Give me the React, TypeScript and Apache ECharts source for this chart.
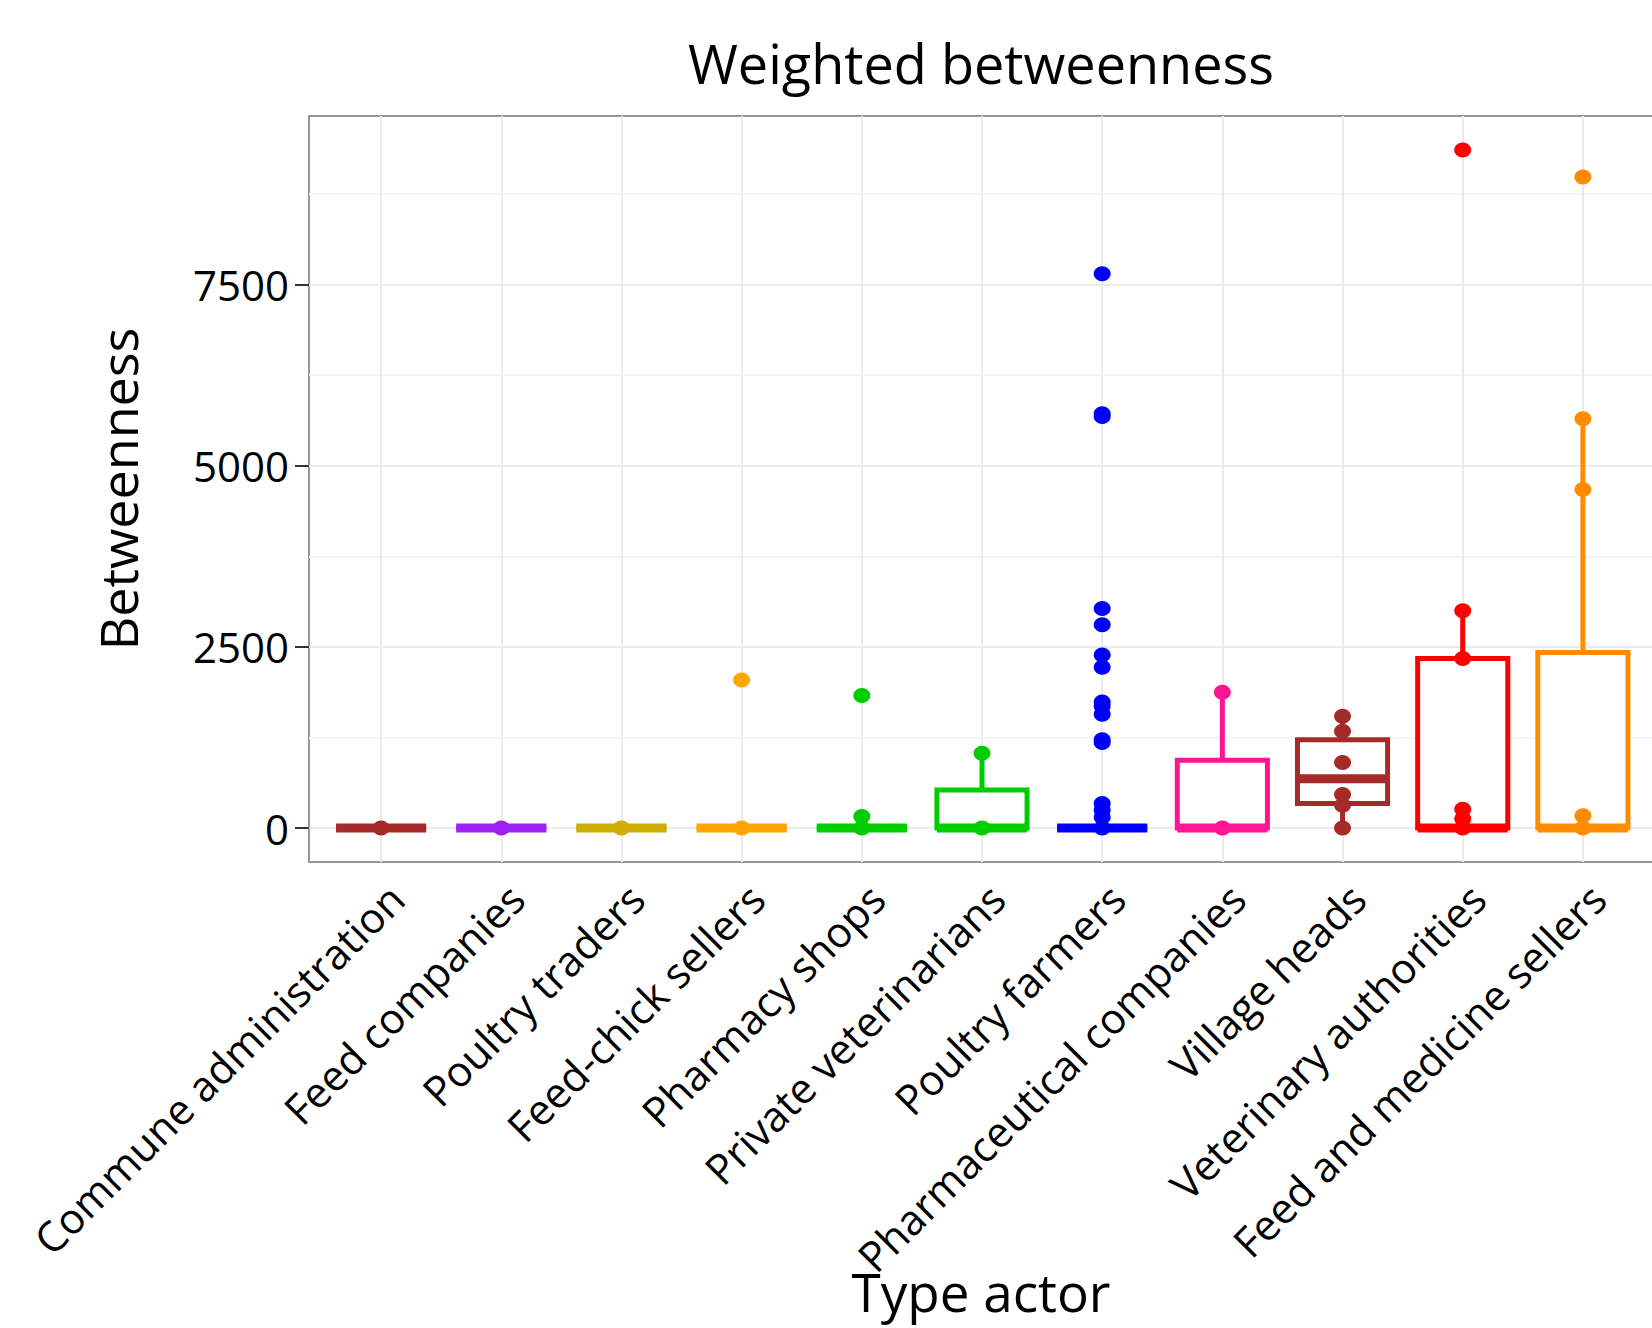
import React, { useEffect, useRef } from "react";
import * as echarts from "echarts";

const categories = [
  "Commune administration",
  "Feed companies",
  "Poultry traders",
  "Feed-chick sellers",
  "Pharmacy shops",
  "Private veterinarians",
  "Poultry farmers",
  "Pharmaceutical companies",
  "Village heads",
  "Veterinary authorities",
  "Feed and medicine sellers",
];

const colors = [
  "#A52A2A",
  "#A020F0",
  "#CDAD00",
  "#FFA500",
  "#00CD00",
  "#00CD00",
  "#0000FF",
  "#FF1493",
  "#A52A2A",
  "#FF0000",
  "#FF8C00",
];

// box statistics per category
const whiskerLow = [0, 0, 0, 0, 0, 0, 0, 0, 0, 0, 0];
const q1 = [0, 0, 0, 0, 0, 0, 0, 0, 340, 0, 0];
const median = [0, 0, 0, 0, 0, 0, 0, 0, 680, 0, 0];
const q3 = [0, 0, 0, 0, 0, 525, 0, 935, 1220, 2340, 2425];
const whiskerHigh = [0, 0, 0, 0, 0, 1032, 0, 1875, 1545, 2998, 5650];

// observed points per category
const pointValues = [
  [0],
  [0],
  [0],
  [0, 2045],
  [0, 160, 1830],
  [0, 1032],
  [0, 150, 250, 340, 1180, 1220, 1570, 1680, 1740, 2220, 2390, 2805, 3030, 5680, 5720, 7650],
  [0, 1875],
  [0, 315, 465, 905, 1335, 1545],
  [0, 130, 260, 2340, 2998, 9360],
  [0, 170, 4672, 5650, 8985],
];

const yTicks = [0, 2500, 5000, 7500];
const yMinorGrid = [1250, 3750, 6250, 8750];
const yMin = -468;
const yMax = 9828;

const FONT = "Open Sans";

export default function App() {
  const ref = useRef<HTMLDivElement>(null);

  useEffect(() => {
    if (!ref.current) return;
    const chart = echarts.init(ref.current, null, { renderer: "svg" });
    const xPositions = categories.map((_, i) => i + 1);

    const boxData = categories.map((_, i) => [
      i + 1,
      whiskerLow[i],
      q1[i],
      median[i],
      q3[i],
      whiskerHigh[i],
    ]);

    const scatterData: any[] = [];
    pointValues.forEach((vals, i) => {
      vals.forEach((v) => {
        scatterData.push({ value: [i + 1, v], itemStyle: { color: colors[i], opacity: 1 } });
      });
    });

    const gridLineData: any[] = [
      ...yMinorGrid.map((v) => ({ yAxis: v, lineStyle: { color: "#F5F5F5", width: 2, type: "solid" } })),
      ...yTicks.map((v) => ({ yAxis: v, lineStyle: { color: "#EBEBEB", width: 2, type: "solid" } })),
      ...xPositions.map((v) => ({ xAxis: v, lineStyle: { color: "#EBEBEB", width: 2, type: "solid" } })),
    ];

    const option: any = {
      animation: false,
      backgroundColor: "#ffffff",
      textStyle: { fontFamily: FONT },
      grid: {
        left: 309,
        top: 116,
        width: 1346,
        height: 746,
        show: true,
        borderColor: "#979797",
        borderWidth: 2,
        backgroundColor: "#ffffff",
        containLabel: false,
        outerBoundsMode: "none",
      },
      xAxis: {
        type: "value",
        min: 0.4,
        max: 11.6,
        axisLine: { show: false },
        splitLine: { show: false },
        axisTick: {
          show: true,
          customValues: xPositions,
          length: 14,
          lineStyle: { color: "#333333", width: 2 },
        },
        axisLabel: {
          customValues: xPositions,
          formatter: (v: number) => categories[Math.round(v) - 1] ?? "",
          rotate: 45,
          align: "right",
          verticalAlign: "top",
          fontSize: 42,
          fontFamily: FONT,
          color: "#000000",
          margin: 14,
          hideOverlap: false,
        },
      },
      yAxis: {
        type: "value",
        min: yMin,
        max: yMax,
        axisLine: { show: false },
        splitLine: { show: false },
        axisTick: {
          show: true,
          customValues: yTicks,
          length: 14,
          lineStyle: { color: "#333333", width: 2 },
        },
        axisLabel: {
          customValues: yTicks,
          formatter: (v: number) => String(Math.round(v)),
          fontSize: 42,
          fontFamily: FONT,
          color: "#000000",
          margin: 20,
        },
      },
      graphic: [
        {
          type: "text",
          x: 981,
          y: 63,
          style: {
            text: "Weighted betweenness",
            fontSize: 54,
            fontFamily: FONT,
            fill: "#000000",
            align: "center",
            verticalAlign: "middle",
          },
        },
        {
          type: "text",
          x: 981,
          y: 1291,
          style: {
            text: "Type actor",
            fontSize: 53,
            fontFamily: FONT,
            fill: "#000000",
            align: "center",
            verticalAlign: "middle",
          },
        },
        {
          type: "text",
          x: 117,
          y: 489,
          rotation: Math.PI / 2,
          style: {
            text: "Betweenness",
            fontSize: 52,
            fontFamily: FONT,
            fill: "#000000",
            align: "center",
            verticalAlign: "middle",
          },
        },
      ],
      series: [
        {
          type: "line",
          data: [],
          silent: true,
          z: 1,
          markLine: {
            z: 1,
            silent: true,
            symbol: ["none", "none"],
            label: { show: false },
            animation: false,
            data: gridLineData,
          },
        },
        {
          type: "custom",
          z: 3,
          data: boxData,
          encode: { x: 0, y: [1, 2, 3, 4, 5] },
          renderItem: (params: any, api: any) => {
            const x = api.value(0);
            const lo = api.coord([x, api.value(1)]);
            const q1p = api.coord([x, api.value(2)]);
            const md = api.coord([x, api.value(3)]);
            const q3p = api.coord([x, api.value(4)]);
            const hi = api.coord([x, api.value(5)]);
            const hw = api.size([0.75, 0])[0] / 2;
            const color = colors[params.dataIndex];
            return {
              type: "group",
              children: [
                {
                  type: "line",
                  shape: { x1: lo[0], y1: lo[1], x2: q1p[0], y2: q1p[1] },
                  style: { stroke: color, lineWidth: 5 },
                },
                {
                  type: "line",
                  shape: { x1: q3p[0], y1: q3p[1], x2: hi[0], y2: hi[1] },
                  style: { stroke: color, lineWidth: 5 },
                },
                {
                  type: "rect",
                  shape: {
                    x: q1p[0] - hw,
                    y: q3p[1],
                    width: 2 * hw,
                    height: q1p[1] - q3p[1],
                  },
                  style: { stroke: color, fill: "#ffffff", lineWidth: 5 },
                },
                {
                  type: "line",
                  shape: { x1: md[0] - hw, y1: md[1], x2: md[0] + hw, y2: md[1] },
                  style: { stroke: color, lineWidth: 9 },
                },
              ],
            };
          },
        },
        {
          type: "scatter",
          z: 4,
          symbol: "circle",
          symbolSize: [17, 15],
          itemStyle: { opacity: 1 },
          data: scatterData,
        },
      ],
    };

    chart.setOption(option);
    return () => chart.dispose();
  }, []);

  return (
    <div
      ref={ref}
      style={{ position: "absolute", left: 0, top: 0, width: 1652, height: 1328 }}
    />
  );
}
